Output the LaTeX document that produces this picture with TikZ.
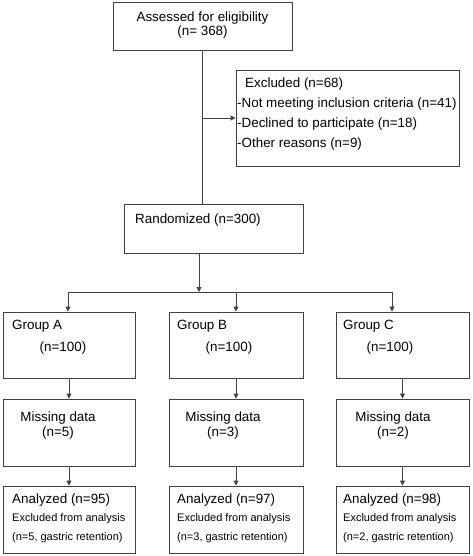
\documentclass[tikz,border=0pt]{standalone}
\usepackage{fontspec}
\setmainfont{Liberation Sans}
\usetikzlibrary{arrows.meta}
\begin{document}
\begin{tikzpicture}[x=1pt,y=-1pt,
  box/.style={draw=black!75, line width=0.9pt, inner sep=0pt},
  lbl/.style={inner sep=0pt, font=\fontsize{13.4}{15}\selectfont},
  sml/.style={inner sep=0pt, font=\fontsize{11}{13}\selectfont},
  ln/.style={draw=black!75, line width=0.9pt},
  arr/.style={draw=black!75, line width=0.9pt, -{Triangle[length=5pt,width=5pt]}}]
\useasboundingbox (0,0) rectangle (472,556);
% boxes
\node[box, minimum width=179pt, minimum height=48pt] (top) at (202.5,26) {};
\node[box, minimum width=223pt, minimum height=96pt] (excl) at (347.5,118) {};
\node[box, minimum width=179pt, minimum height=49pt] (rand) at (213.5,228.5) {};
\node[box, minimum width=132pt, minimum height=66pt] (gA) at (69,345) {};
\node[box, minimum width=134pt, minimum height=66pt] (gB) at (236,345) {};
\node[box, minimum width=133pt, minimum height=66pt] (gC) at (402.5,345) {};
\node[box, minimum width=132pt, minimum height=67pt] (mA) at (69,432.5) {};
\node[box, minimum width=134pt, minimum height=67pt] (mB) at (236,432.5) {};
\node[box, minimum width=133pt, minimum height=67pt] (mC) at (402.5,432.5) {};
\node[box, minimum width=132pt, minimum height=67pt] (aA) at (69,519.5) {};
\node[box, minimum width=134pt, minimum height=67pt] (aB) at (236,519.5) {};
\node[box, minimum width=133pt, minimum height=67pt] (aC) at (402.5,519.5) {};
% texts
\node[lbl, align=center] (ttop) at (202.5,25) {Assessed for eligibility\\[-1.5pt](n= 368)};
\node[lbl, anchor=west] (tex0) at (245,84) {Excluded (n=68)};
\node[lbl, anchor=west] (tex1) at (237,104) {-Not meeting inclusion criteria (n=41)};
\node[lbl, anchor=west] (tex2) at (237,124) {-Declined to participate (n=18)};
\node[lbl, anchor=west] (tex3) at (237,144) {-Other reasons (n=9)};
\node[lbl, anchor=west] (trand) at (135,220) {Randomized (n=300)};
\node[lbl, anchor=west] (tgA) at (12,326) {Group A};
\node[lbl, anchor=west] (tgB) at (177,326) {Group B};
\node[lbl, anchor=west] (tgC) at (343,326) {Group C};
\node[lbl] (ngA) at (63,348) {(n=100)};
\node[lbl] (ngB) at (229,348) {(n=100)};
\node[lbl] (ngC) at (390,348) {(n=100)};
\node[lbl] (tmA) at (58,418) {Missing data};
\node[lbl] (nmA) at (58,433) {(n=5)};
\node[lbl] (tmB) at (223,418) {Missing data};
\node[lbl] (nmB) at (223,433) {(n=3)};
\node[lbl] (tmC) at (393,418) {Missing data};
\node[lbl] (nmC) at (393,433) {(n=2)};
\node[lbl, anchor=west] (taA) at (12,500) {Analyzed (n=95)};
\node[lbl, anchor=west] (taB) at (177,500) {Analyzed (n=97)};
\node[lbl, anchor=west] (taC) at (343,500) {Analyzed (n=98)};
\node[sml, anchor=west] (eA) at (12,519) {Excluded from analysis};
\node[sml, anchor=west] (eB) at (177,519) {Excluded from analysis};
\node[sml, anchor=west] (eC) at (343,519) {Excluded from analysis};
\node[sml, anchor=west] (rA) at (12,538) {(n=5, gastric retention)};
\node[sml, anchor=west] (rB) at (177,538) {(n=3, gastric retention)};
\node[sml, anchor=west] (rC) at (343,538) {(n=2, gastric retention)};
% connectors
\draw[ln] (top.south) -- (top.south |- rand.north);
\draw[arr] (excl.west -| top.south) -- (excl.west);
\coordinate (split) at (199,292);
\coordinate (hl) at (68,292);
\coordinate (hm) at (236,292);
\coordinate (hr) at (392,292);
\draw[arr] (split |- rand.south) -- (split);
\draw[ln] (hl) -- (hr);
\draw[arr] (hl) -- (hl |- gA.north);
\draw[arr] (hm) -- (hm |- gB.north);
\draw[arr] (hr) -- (hr |- gC.north);
\draw[arr] (gA.south) -- (mA.north);
\draw[arr] (gB.south) -- (mB.north);
\draw[arr] (gC.south) -- (mC.north);
\draw[arr] (mA.south) -- (aA.north);
\draw[arr] (mB.south) -- (aB.north);
\draw[arr] (mC.south) -- (aC.north);
\end{tikzpicture}
\end{document}
